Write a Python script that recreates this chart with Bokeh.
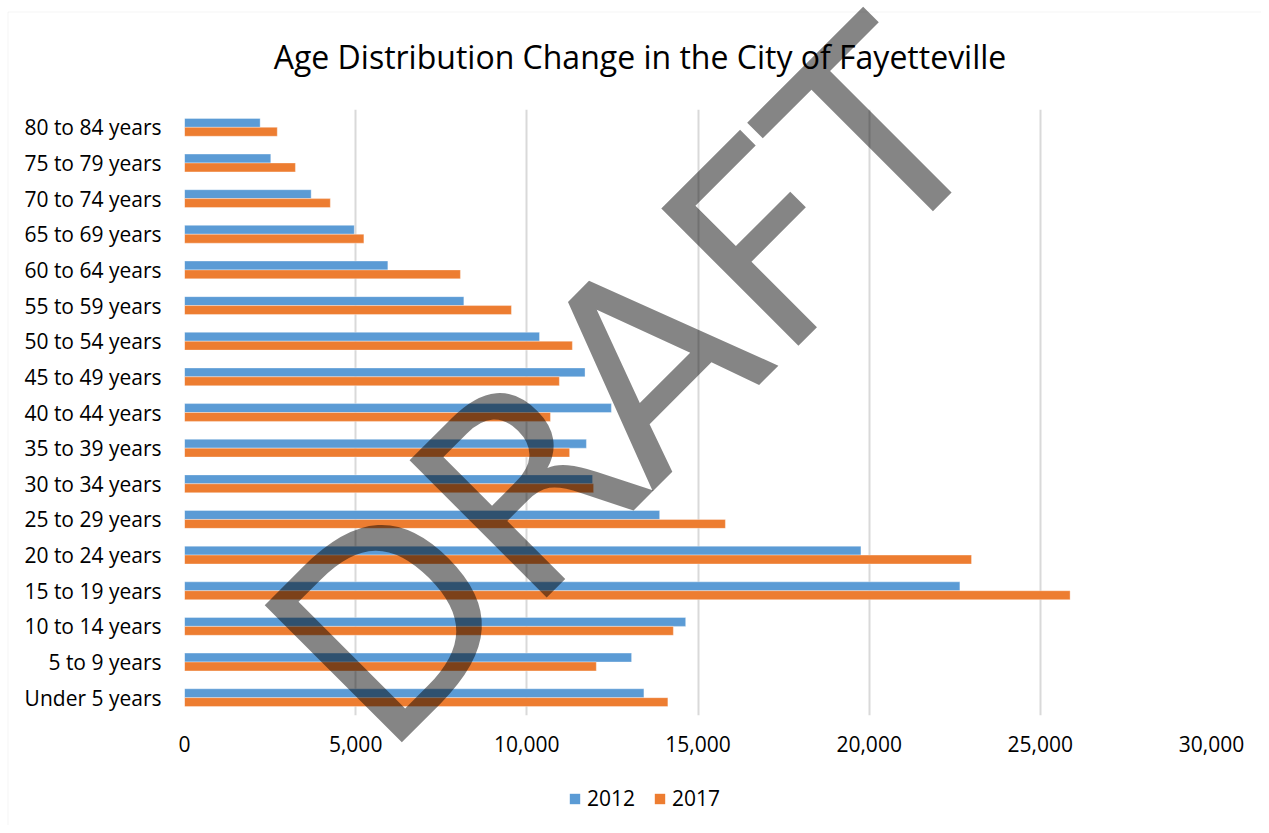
from bokeh.plotting import figure
from bokeh.layouts import column
from bokeh.models import (Range1d, FactorRange, FixedTicker, NumeralTickFormatter,
                          Label, Legend, LegendItem, BoxAnnotation, ColumnDataSource)
from bokeh.transform import dodge
from bokeh.embed import file_html
from bokeh.resources import INLINE

# ---- data (bottom to top) ----
categories = ["Under 5 years", "5 to 9 years", "10 to 14 years", "15 to 19 years",
              "20 to 24 years", "25 to 29 years", "30 to 34 years", "35 to 39 years",
              "40 to 44 years", "45 to 49 years", "50 to 54 years", "55 to 59 years",
              "60 to 64 years", "65 to 69 years", "70 to 74 years", "75 to 79 years",
              "80 to 84 years"]
values_2012 = [13420, 13060, 14640, 22650, 19760, 13880, 11920, 11740,
               12470, 11700, 10370, 8160, 5940, 4960, 3700, 2520, 2210]
values_2017 = [14120, 12030, 14280, 25870, 22990, 15800, 11950, 11250,
               10690, 10950, 11330, 9550, 8060, 5240, 4260, 3240, 2710]
series_labels = ["2012", "2017"]
x_ticks = [0, 5000, 10000, 15000, 20000, 25000, 30000]
title_text = "Age Distribution Change in the City of Fayetteville"
watermark = "DRAFT"

FONT = "Open Sans"
BLUE = "#5B9BD5"
ORANGE = "#ED7D31"
W, H = 1261, 825

src = ColumnDataSource(dict(cat=categories, v2012=values_2012, v2017=values_2017))

# ---------------- main chart ----------------
p = figure(width=W, height=H, output_backend="svg", toolbar_location=None,
           x_range=Range1d(0, 30000),
           y_range=FactorRange(factors=categories, range_padding=0),
           min_border_left=184, min_border_right=50, min_border_top=109,
           min_border_bottom=110)
p.frame_align = False

r1 = p.hbar(y=dodge("cat", 0.125, range=p.y_range), left=0, right="v2012", height=0.25,
            source=src, fill_color=BLUE, line_color="white", line_alpha=0.35, line_width=1)
r2 = p.hbar(y=dodge("cat", -0.125, range=p.y_range), left=0, right="v2017", height=0.25,
            source=src, fill_color=ORANGE, line_color="white", line_alpha=0.35, line_width=1)

p.outline_line_color = None
p.ygrid.grid_line_color = None
p.xgrid.grid_line_color = "#d9d9d9"
p.xgrid.grid_line_width = 2
p.xaxis.ticker = FixedTicker(ticks=x_ticks)
p.xaxis.formatter = NumeralTickFormatter(format="0,0")
for ax in (p.xaxis, p.yaxis):
    ax.axis_line_color = None
    ax.major_tick_line_color = None
    ax.minor_tick_line_color = None
    ax.major_tick_out = 0
    ax.major_tick_in = 0
    ax.minor_tick_out = 0
    ax.major_label_text_font = FONT
    ax.major_label_text_font_size = "21px"
    ax.major_label_text_color = "#000000"
p.xaxis.major_label_standoff = 20
p.yaxis.major_label_standoff = 23

# ---------------- overlay: title, legend, watermark, border ----------------
p2 = figure(width=W, height=H, output_backend="svg", toolbar_location=None,
            x_range=Range1d(0, W), y_range=Range1d(H, 0),
            x_axis_type=None, y_axis_type=None,
            min_border=0, min_border_left=0, min_border_right=0,
            min_border_top=0, min_border_bottom=0)
p2.frame_align = False
p2.background_fill_color = None
p2.border_fill_color = None
p2.outline_line_color = None
p2.grid.visible = False
p2.styles = {"margin-top": f"-{H}px"}

p2.add_layout(BoxAnnotation(left=7.5, right=W + 20, top=11.5, bottom=H + 20,
                            fill_alpha=0, line_color="#d9d9d9", line_width=1))

p2.add_layout(Label(x=639.5, y=56, text=title_text, text_font=FONT,
                    text_font_size="32px", text_color="#000000",
                    text_align="center", text_baseline="middle"))

# legend swatches (hidden copies of the two series, used only for the legend)
k1 = p2.hbar(y="v2012", left=0, right="v2012", height=1, source=src,
             fill_color=BLUE, line_color=None, visible=False)
k2 = p2.hbar(y="v2017", left=0, right="v2017", height=1, source=src,
             fill_color=ORANGE, line_color=None, visible=False)
legend = Legend(items=[LegendItem(label=series_labels[0], renderers=[k1]),
                       LegendItem(label=series_labels[1], renderers=[k2])],
                orientation="horizontal", location=(568, 13),
                glyph_width=13, glyph_height=13, label_text_font=FONT,
                label_text_font_size="21px", label_text_color="#000000",
                label_standoff=6, spacing=18,
                padding=0, margin=0, border_line_color=None,
                background_fill_alpha=0)
p2.add_layout(legend, "center")

p2.add_layout(Label(x=626, y=387, text=watermark, angle=45, angle_units="deg",
                    text_font="DejaVu Sans", text_font_size="266px", text_color="#000000",
                    text_alpha=0.48, text_align="center", text_baseline="alphabetic"))

open("out.html", "w").write(file_html(column(p, p2), INLINE))
